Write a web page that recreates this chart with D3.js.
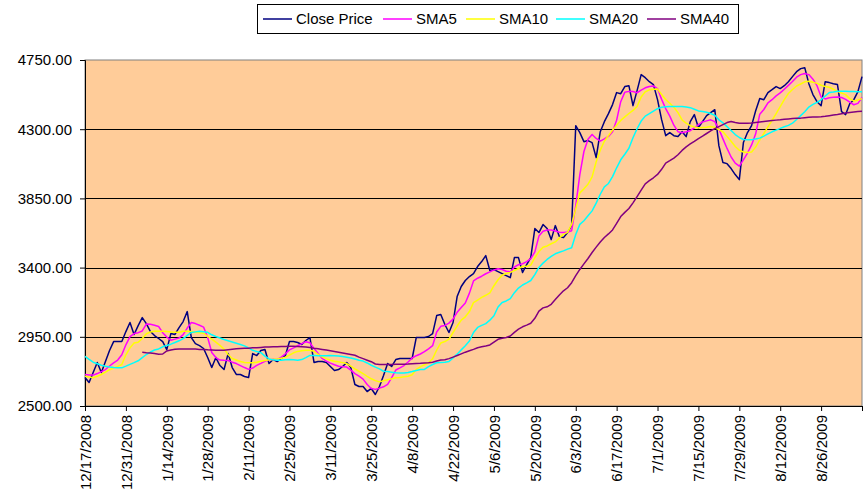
<!DOCTYPE html>
<meta charset="utf-8">
<style>
body { margin: 0; background: #fff; }
svg { display: block; font-family: "Liberation Sans", Arial, sans-serif; }
</style>
<body>
<div id="chart"></div>
<script src="https://d3js.org/d3.v7.min.js"></script>
<script>
// tick labels, one every 10 trading days
var tickLabels = ["12/17/2008", "12/31/2008", "1/14/2009", "1/28/2009", "2/11/2009", "2/25/2009",
  "3/11/2009", "3/25/2009", "4/8/2009", "4/22/2009", "5/6/2009", "5/20/2009", "6/3/2009",
  "6/17/2009", "7/1/2009", "7/15/2009", "7/29/2009", "8/12/2009", "8/26/2009"];

var yTicks = [2500, 2950, 3400, 3850, 4300, 4750];

var closePrice = [
  2685, 2653, 2718, 2783, 2718, 2789, 2861, 2919, 2919, 2919,
  2984, 3043, 2965, 3023, 3075, 3036, 2984, 2958, 2939, 2919,
  2867, 2971, 2965, 3010, 3049, 3114, 2945, 2906, 2893, 2874,
  2815, 2750, 2815, 2763, 2737, 2841, 2750, 2705, 2705, 2692,
  2685, 2841, 2828, 2861, 2867, 2776, 2802, 2789, 2809, 2828,
  2919, 2919, 2913, 2900, 2926, 2945, 2783, 2789, 2789, 2783,
  2757, 2731, 2737, 2757, 2783, 2750, 2640, 2627, 2627, 2594,
  2614, 2575, 2627, 2698, 2776, 2757, 2802, 2809, 2809, 2809,
  2809, 2945, 2945, 2945, 2952, 2971, 3088, 3095, 3030, 2978,
  3043, 3212, 3277, 3316, 3342, 3361, 3407, 3439, 3478, 3381,
  3387, 3374, 3361, 3348, 3335, 3465, 3465, 3368, 3420, 3465,
  3654, 3628, 3680, 3654, 3582, 3673, 3602, 3595, 3628, 3673,
  4323, 4278, 4219, 4226, 4213, 4115, 4284, 4349, 4401, 4460,
  4538, 4531, 4577, 4583, 4453, 4551, 4655, 4635, 4609, 4590,
  4492, 4362, 4258, 4278, 4258, 4252, 4284, 4252, 4349, 4395,
  4310, 4349, 4388, 4408, 4427, 4193, 4083, 4076, 4044, 4005,
  3972, 4213, 4278, 4323, 4420, 4499, 4492, 4538, 4557, 4577,
  4564, 4583, 4609, 4642, 4674, 4694, 4700, 4596, 4525, 4479,
  4453, 4609, 4603, 4596, 4590, 4414, 4395, 4466, 4492, 4544, 4642];

var sma5 = [
  2705, 2701, 2701, 2711, 2724, 2737, 2760, 2781, 2799, 2833,
  2898, 2951, 2971, 2977, 2988, 3033, 3032, 3025, 3017, 2977,
  2948, 2928, 2935, 2942, 2964, 3007, 3043, 3036, 3025, 3013,
  2945, 2848, 2815, 2799, 2797, 2796, 2785, 2776, 2763, 2750,
  2738, 2747, 2764, 2777, 2791, 2801, 2802, 2803, 2818, 2840,
  2865, 2878, 2892, 2906, 2918, 2911, 2874, 2842, 2809, 2792,
  2779, 2768, 2759, 2756, 2753, 2733, 2711, 2694, 2675, 2640,
  2614, 2608, 2616, 2625, 2641, 2684, 2734, 2748, 2763, 2786,
  2812, 2827, 2838, 2853, 2872, 2892, 2981, 3018, 3024, 3039,
  3066, 3109, 3140, 3170, 3234, 3313, 3331, 3344, 3360, 3372,
  3385, 3392, 3388, 3376, 3372, 3404, 3419, 3425, 3439, 3458,
  3502, 3605, 3636, 3644, 3644, 3638, 3630, 3628, 3631, 3640,
  3803, 4004, 4155, 4234, 4266, 4240, 4223, 4237, 4253, 4283,
  4359, 4479, 4541, 4546, 4545, 4537, 4554, 4569, 4578, 4581,
  4564, 4494, 4434, 4385, 4326, 4284, 4277, 4283, 4290, 4308,
  4330, 4347, 4354, 4361, 4349, 4302, 4237, 4175, 4119, 4079,
  4060, 4101, 4145, 4198, 4270, 4398, 4428, 4471, 4492, 4517,
  4536, 4560, 4585, 4610, 4638, 4655, 4662, 4655, 4625, 4583,
  4510, 4497, 4504, 4507, 4509, 4506, 4494, 4476, 4459, 4468, 4506];

var sma10 = [
  2693, 2688, 2684, 2693, 2705, 2720, 2736, 2747, 2758, 2770,
  2833, 2878, 2909, 2915, 2939, 2970, 2981, 2986, 2986, 2986,
  2984, 2981, 2979, 2980, 2986, 2986, 2984, 2980, 2976, 2973,
  2953, 2935, 2915, 2894, 2870, 2835, 2809, 2799, 2789, 2783,
  2781, 2781, 2785, 2791, 2796, 2801, 2803, 2805, 2810, 2818,
  2831, 2846, 2855, 2859, 2862, 2863, 2856, 2835, 2819, 2808,
  2798, 2791, 2787, 2782, 2776, 2759, 2742, 2726, 2710, 2693,
  2677, 2665, 2657, 2664, 2671, 2677, 2684, 2685, 2690, 2694,
  2703, 2738, 2754, 2768, 2781, 2807, 2864, 2910, 2919, 2935,
  2978, 3020, 3058, 3080, 3114, 3172, 3189, 3206, 3220, 3236,
  3282, 3321, 3351, 3362, 3369, 3381, 3394, 3407, 3409, 3416,
  3464, 3504, 3532, 3541, 3555, 3567, 3593, 3616, 3629, 3681,
  3782, 3886, 3912, 3942, 3990, 4088, 4164, 4222, 4258, 4294,
  4326, 4357, 4380, 4402, 4422, 4448, 4509, 4543, 4556, 4560,
  4562, 4526, 4493, 4469, 4443, 4408, 4360, 4339, 4323, 4315,
  4310, 4311, 4313, 4317, 4311, 4298, 4283, 4253, 4221, 4188,
  4163, 4152, 4148, 4151, 4184, 4230, 4272, 4315, 4358, 4402,
  4447, 4492, 4532, 4558, 4581, 4594, 4608, 4612, 4606, 4598,
  4586, 4578, 4573, 4560, 4546, 4535, 4525, 4499, 4484, 4490, 4499];

var sma20 = [
  2822, 2803, 2785, 2775, 2765, 2758, 2753, 2750, 2749, 2748,
  2759, 2771, 2782, 2794, 2815, 2835, 2851, 2864, 2871, 2885,
  2894, 2902, 2913, 2924, 2938, 2959, 2978, 2982, 2986, 2983,
  2979, 2963, 2952, 2942, 2932, 2924, 2916, 2908, 2900, 2891,
  2878, 2862, 2854, 2847, 2824, 2806, 2800, 2798, 2798, 2800,
  2802, 2800, 2797, 2802, 2815, 2829, 2828, 2827, 2826, 2827,
  2828, 2827, 2825, 2822, 2817, 2812, 2805, 2798, 2792, 2780,
  2765, 2753, 2741, 2726, 2724, 2720, 2716, 2715, 2715, 2718,
  2724, 2731, 2737, 2738, 2756, 2770, 2781, 2783, 2784, 2789,
  2813, 2837, 2865, 2892, 2923, 2978, 3011, 3024, 3036, 3058,
  3087, 3144, 3173, 3183, 3198, 3237, 3267, 3287, 3301, 3316,
  3354, 3401, 3429, 3453, 3473, 3490, 3500, 3509, 3520, 3529,
  3615, 3681, 3705, 3737, 3769, 3819, 3877, 3925, 3947, 3992,
  4049, 4101, 4137, 4176, 4244, 4303, 4353, 4385, 4401, 4418,
  4434, 4443, 4446, 4448, 4448, 4448, 4448, 4445, 4440, 4430,
  4419, 4415, 4410, 4402, 4390, 4361, 4341, 4317, 4292, 4265,
  4246, 4233, 4232, 4231, 4237, 4242, 4255, 4270, 4283, 4294,
  4305, 4316, 4325, 4339, 4363, 4388, 4414, 4444, 4461, 4475,
  4491, 4516, 4538, 4542, 4547, 4547, 4546, 4545, 4545, 4543, 4543];

// SMA40 only starts once enough history is there
var sma40 = [
  null, null, null, null, null, null, null, null, null, null,
  null, null, null, null, 2849, 2846, 2844, 2841, 2837, 2838,
  2858, 2864, 2869, 2870, 2870, 2871, 2871, 2870, 2868, 2867,
  2865, 2864, 2862, 2862, 2863, 2866, 2869, 2872, 2874, 2875,
  2876, 2878, 2879, 2881, 2883, 2884, 2885, 2886, 2887, 2887,
  2888, 2888, 2887, 2885, 2883, 2880, 2875, 2872, 2868, 2864,
  2860, 2855, 2850, 2845, 2840, 2835, 2830, 2818, 2808, 2798,
  2788, 2773, 2770, 2770, 2770, 2770, 2771, 2772, 2772, 2773,
  2775, 2777, 2778, 2780, 2782, 2785, 2792, 2799, 2801, 2808,
  2818, 2828, 2839, 2850, 2859, 2868, 2879, 2885, 2890, 2897,
  2916, 2934, 2940, 2946, 2955, 2979, 3000, 3015, 3026, 3038,
  3070, 3117, 3138, 3145, 3161, 3192, 3222, 3249, 3269, 3302,
  3348, 3388, 3424, 3459, 3498, 3533, 3567, 3596, 3619, 3645,
  3687, 3732, 3759, 3784, 3821, 3862, 3904, 3945, 3965, 3984,
  4006, 4039, 4079, 4095, 4112, 4134, 4162, 4185, 4204, 4221,
  4239, 4255, 4272, 4289, 4304, 4317, 4330, 4343, 4350, 4343,
  4339, 4339, 4339, 4341, 4344, 4347, 4350, 4353, 4356, 4359,
  4361, 4364, 4367, 4369, 4371, 4372, 4375, 4377, 4379, 4380,
  4381, 4384, 4388, 4392, 4396, 4401, 4406, 4409, 4412, 4415, 4417];

var series = [
  {name: "Close Price", values: closePrice, color: "#000080"},
  {name: "SMA5", values: sma5, color: "#FF00FF"},
  {name: "SMA10", values: sma10, color: "#FFFF00"},
  {name: "SMA20", values: sma20, color: "#00FFFF"},
  {name: "SMA40", values: sma40, color: "#800080"}
];

var width = 864, height = 494;
var plotLeft = 85, plotRight = 862, plotTop = 60, plotBottom = 406;

var svg = d3.select("#chart").append("svg")
  .attr("width", width).attr("height", height);

var x = d3.scaleLinear().domain([0, closePrice.length - 1]).range([plotLeft, plotRight]);
var y = d3.scaleLinear().domain([2500, 4750]).range([plotBottom, plotTop]);

// plot area
svg.append("rect")
  .attr("x", plotLeft).attr("y", plotTop)
  .attr("width", plotRight - plotLeft).attr("height", plotBottom - plotTop)
  .attr("fill", "#FFCC99")
  .attr("stroke", "#808080");

// horizontal gridlines
svg.append("g")
  .selectAll("line")
  .data(yTicks.slice(1, -1))
  .enter()
  .append("line")
  .attr("x1", plotLeft).attr("x2", plotRight)
  .attr("y1", function(d) { return Math.round(y(d)) + 0.5; })
  .attr("y2", function(d) { return Math.round(y(d)) + 0.5; })
  .attr("stroke", "#000")
  .attr("stroke-width", 1);

// y axis
var yAxis = svg.append("g")
  .attr("transform", "translate(" + plotLeft + ",0)")
  .call(d3.axisLeft(y).tickValues(yTicks).tickSize(5).tickPadding(8)
    .tickFormat(function(d) { return d.toFixed(2); }));

// x axis, tick every 10 points plus the end
var xTickIdx = tickLabels.map(function(d, i) { return i * 10; });
var xAxis = svg.append("g")
  .attr("transform", "translate(0," + plotBottom + ")")
  .call(d3.axisBottom(x).tickValues(xTickIdx.concat([closePrice.length - 1])).tickSize(5)
    .tickFormat(function(d) { return tickLabels[d / 10] || ""; }));

xAxis.selectAll("text")
  .attr("transform", "translate(0,3) rotate(-90)")
  .attr("text-anchor", "end")
  .attr("x", -6)
  .attr("y", 0)
  .attr("dy", "0.35em");

[yAxis, xAxis].forEach(function(a) {
  a.select(".domain").attr("stroke", "#000");
  a.selectAll(".tick line").attr("stroke", "#000");
  a.selectAll("text").attr("font-size", "15px").attr("fill", "#000")
    .attr("font-family", "'Liberation Sans', Arial, sans-serif");
});

// lines
var line = d3.line()
  .defined(function(d) { return d != null; })
  .x(function(d, i) { return x(i); })
  .y(function(d) { return y(d); });

svg.append("g")
  .selectAll("path")
  .data(series)
  .enter()
  .append("path")
  .attr("d", function(d) { return line(d.values); })
  .attr("fill", "none")
  .attr("stroke", function(d) { return d.color; })
  .attr("stroke-width", 1.5)
  .attr("stroke-linejoin", "round");

// legend
var legendX = [263, 383, 466, 556, 647];
var legend = svg.append("g");
legend.append("rect")
  .attr("x", 257.5).attr("y", 4.5)
  .attr("width", 481).attr("height", 29)
  .attr("fill", "#fff").attr("stroke", "#000");

var item = legend.selectAll(".item")
  .data(series)
  .enter()
  .append("g")
  .attr("class", "item")
  .attr("transform", function(d, i) { return "translate(" + legendX[i] + ",19)"; });

item.append("line")
  .attr("x1", 0).attr("x2", 29)
  .attr("stroke", function(d) { return d.color; })
  .attr("stroke-width", 1.5);

item.append("text")
  .attr("x", 33).attr("dy", "0.35em")
  .attr("font-size", "15px")
  .text(function(d) { return d.name; });
</script>
</body>
